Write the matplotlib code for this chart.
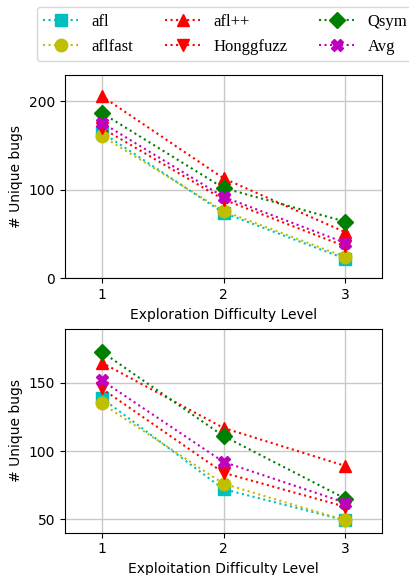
import matplotlib
matplotlib.use('Agg')
import matplotlib.pyplot as plt

levels = [1, 2, 3]
fuzzers = ['afl', 'aflfast', 'afl++', 'Honggfuzz', 'Qsym', 'Avg']

# Exploration difficulty
explore_afl = [165, 74, 22]
explore_aflfast = [161, 76, 24]
explore_aflpp = [206, 113, 52]
explore_honggfuzz = [170, 89, 36]
explore_qsym = [187, 102, 64]
explore_avg = [176, 92, 40]

# Exploitation difficulty
exploit_afl = [139, 72, 49]
exploit_aflfast = [135, 76, 49]
exploit_aflpp = [165, 117, 89]
exploit_honggfuzz = [146, 84, 59]
exploit_qsym = [173, 111, 65]
exploit_avg = [152, 92, 62]

colors = ['c', 'y', 'r', 'r', 'g', 'm']
markers = ['s', 'o', '^', 'v', 'D', 'X']
sizes = [9, 9, 9, 9, 8, 9]

fig = plt.figure(figsize=(4.09, 5.75), dpi=100)
ax1 = fig.add_axes([0.159, 0.516, 0.775, 0.354])
ax2 = fig.add_axes([0.159, 0.0736, 0.775, 0.355])

explore = [explore_afl, explore_aflfast, explore_aflpp,
           explore_honggfuzz, explore_qsym, explore_avg]
exploit = [exploit_afl, exploit_aflfast, exploit_aflpp,
           exploit_honggfuzz, exploit_qsym, exploit_avg]

for ax, data, xlabel, ylim, yticks in [
        (ax1, explore, 'Exploration Difficulty Level', (0, 230), [0, 100, 200]),
        (ax2, exploit, 'Exploitation Difficulty Level', (40, 190), [50, 100, 150])]:
    for name, vals, c, m, s in zip(fuzzers, data, colors, markers, sizes):
        ax.plot(levels, vals, linestyle=':', color=c, marker=m,
                markersize=s, linewidth=1.5, label=name)
    ax.grid(True, color='#c8c8c8', linewidth=1)
    ax.set_axisbelow(True)
    ax.set_xlim(0.7, 3.3)
    ax.set_ylim(*ylim)
    ax.set_xticks(levels)
    ax.set_yticks(yticks)
    ax.set_xlabel(xlabel, fontsize=10)
    ax.set_ylabel('# Unique bugs', fontsize=10)
    ax.tick_params(labelsize=10)

handles, labels = ax1.get_legend_handles_labels()
fig.legend(handles, labels, loc='upper center', bbox_to_anchor=(0.551, 0.988),
           ncol=3, prop={'family': 'Liberation Serif', 'size': 12},
           handlelength=2.1, columnspacing=1.9, borderpad=0.4,
           labelspacing=0.55, handletextpad=0.8, borderaxespad=0)

fig.savefig('out.png', dpi=100)
